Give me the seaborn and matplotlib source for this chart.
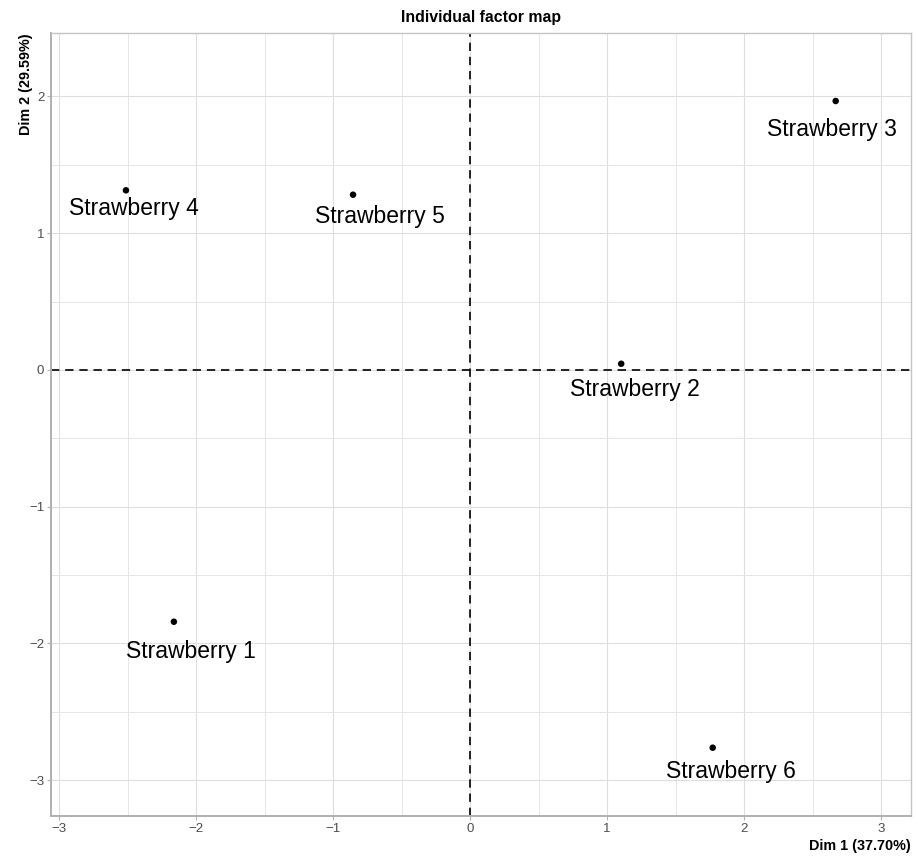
import matplotlib
matplotlib.use("Agg")
import matplotlib.pyplot as plt
import seaborn as sns
import pandas as pd

# ---- data ----
names = ["Strawberry 1", "Strawberry 2", "Strawberry 3",
         "Strawberry 4", "Strawberry 5", "Strawberry 6"]
dim1 = [-2.163, 1.103, 2.669, -2.513, -0.855, 1.771]
dim2 = [-1.841, 0.045, 1.966, 1.313, 1.281, -2.762]
x_ticks = [-3, -2, -1, 0, 1, 2, 3]
y_ticks = [-3, -2, -1, 0, 1, 2]
title = "Individual factor map"
xlabel = "Dim 1 (37.70%)"
ylabel = "Dim 2 (29.59%)"

# label offsets (points) as placed by the repel algorithm
label_dx = [12.2, 9.8, -2.5, 5.8, 19.7, 13.2]
label_dy = [-26.4, -23.0, -25.0, -17.8, -20.6, -21.6]

df = pd.DataFrame({"Dim1": dim1, "Dim2": dim2, "name": names})

sns.set_theme(style="white")
plt.rcParams["font.family"] = ["Liberation Sans", "DejaVu Sans"]

fig = plt.figure(figsize=(9.18, 8.56), dpi=100)
ax = fig.add_axes([0.0559, 0.0471, 0.9365, 0.914])

# grid
ax.set_xticks(x_ticks)
ax.set_yticks(y_ticks)
ax.set_xticks([v + 0.5 for v in x_ticks[:-1]] + [-3.5], minor=True)
ax.set_yticks([v + 0.5 for v in y_ticks[:-1]] + [2.5, -3.5], minor=True)
ax.set_xlim(-3.058, 3.219)
ax.set_ylim(-3.259, 2.461)
ax.grid(True, which="major", color="#dedede", linewidth=0.8)
ax.grid(True, which="minor", color="#e6e6e6", linewidth=0.7)
ax.set_axisbelow(True)

ax.axhline(0, color="black", linestyle=(0, (5, 3.5)), linewidth=1.2, zorder=2)
ax.axvline(0, color="black", linestyle=(0, (5, 3.5)), linewidth=1.2, zorder=2)

sns.scatterplot(data=df, x="Dim1", y="Dim2", ax=ax, color="black",
                s=22, edgecolor="none", zorder=3, legend=False)

for n, xv, yv, dx, dy in zip(names, dim1, dim2, label_dx, label_dy):
    ax.annotate(n, (xv, yv), xytext=(dx, dy), textcoords="offset points",
                ha="center", va="baseline", fontsize=16.5, color="black",
                zorder=4)

for side in ["left", "bottom"]:
    ax.spines[side].set_color("#b0b0b0")
    ax.spines[side].set_linewidth(1.4)
for side in ["top", "right"]:
    ax.spines[side].set_color("#c4c4c4")
    ax.spines[side].set_linewidth(1.0)

ax.tick_params(axis="both", which="major", length=3, width=0.8,
               color="#b3b3b3", labelcolor="#4d4d4d", labelsize=9.5, pad=2,
               bottom=True, left=True)
ax.tick_params(axis="both", which="minor", length=0)

ax.set_title(title, fontsize=11.4, fontweight="bold", pad=8, color="black")
ax.set_xlabel(xlabel, fontsize=10.4, fontweight="bold", loc="right",
              labelpad=3, color="black")
ax.set_ylabel(ylabel, fontsize=10.4, fontweight="bold", loc="top",
              labelpad=-2.5, color="black")

fig.savefig("out.png", dpi=100)
